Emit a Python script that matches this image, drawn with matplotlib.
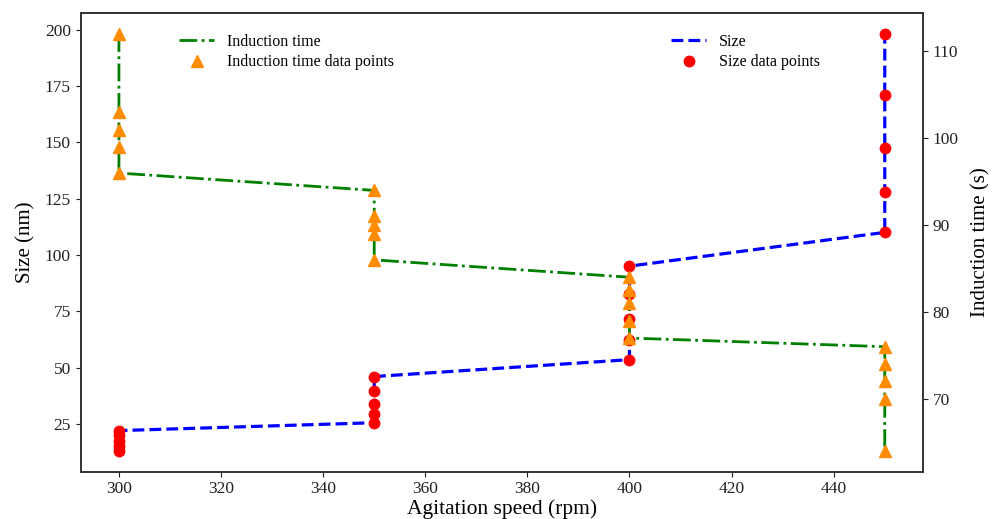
import numpy as np
import matplotlib.pyplot as plt

plt.rcParams["font.family"] = ["Liberation Serif", "DejaVu Serif"]

# agitation speed (rpm), five repeats per setting
speed = [300] * 5 + [350] * 5 + [400] * 5 + [450] * 5

# particle size (nm), ascending inside each speed group
size_nm = [13, 15, 17.5, 20, 22,
           25.5, 29.5, 34, 39.5, 46,
           53.5, 62, 71.5, 82.5, 95,
           110, 128, 147.5, 171, 198]

# induction time (s), descending inside each speed group
induction_s = [112, 103, 101, 99, 96,
               94, 91, 90, 89, 86,
               84, 82.5, 81, 79, 77,
               76, 74, 72, 70, 64]

x_ticks = [300, 320, 340, 360, 380, 400, 420, 440]

fig = plt.figure(figsize=(9.92, 5.19), dpi=100)
ax1 = fig.add_axes([0.0813, 0.0911, 0.8492, 0.8833])
ax2 = ax1.twinx()

# size on the left axis
ax1.plot(speed, size_nm, color="blue", linestyle="--", linewidth=2.3, label="Size")
ax1.plot(speed, size_nm, linestyle="none", marker="o", color="red",
         markersize=7.5, label="Size data points")

# induction time on the right axis
ax2.plot(speed, induction_s, color="green", linestyle="-.", linewidth=2.0,
         label="Induction time")
ax2.plot(speed, induction_s, linestyle="none", marker="^", color="darkorange",
         markersize=8, label="Induction time data points")

ax1.set_xticks(x_ticks)
ax1.set_xlabel("Agitation speed (rpm)", fontsize=15.5, labelpad=1)
ax1.set_ylabel("Size (nm)", fontsize=15, labelpad=7)
ax2.set_ylabel("Induction time (s)", fontsize=15, labelpad=9)

for ax in (ax1, ax2):
    ax.tick_params(labelsize=12.5, colors="#222222")
    for sp in ax.spines.values():
        sp.set_color("#333333")
        sp.set_linewidth(1.2)

ax2.legend(loc="upper left", bbox_to_anchor=(0.1, 0.987), frameon=False,
           fontsize=11.5, numpoints=1, handlelength=2.2, labelspacing=0.3)
ax1.legend(loc="upper left", bbox_to_anchor=(0.684, 0.987), frameon=False,
           fontsize=11.5, numpoints=1, handlelength=2.2, labelspacing=0.3)

fig.savefig("out.png", dpi=100)
